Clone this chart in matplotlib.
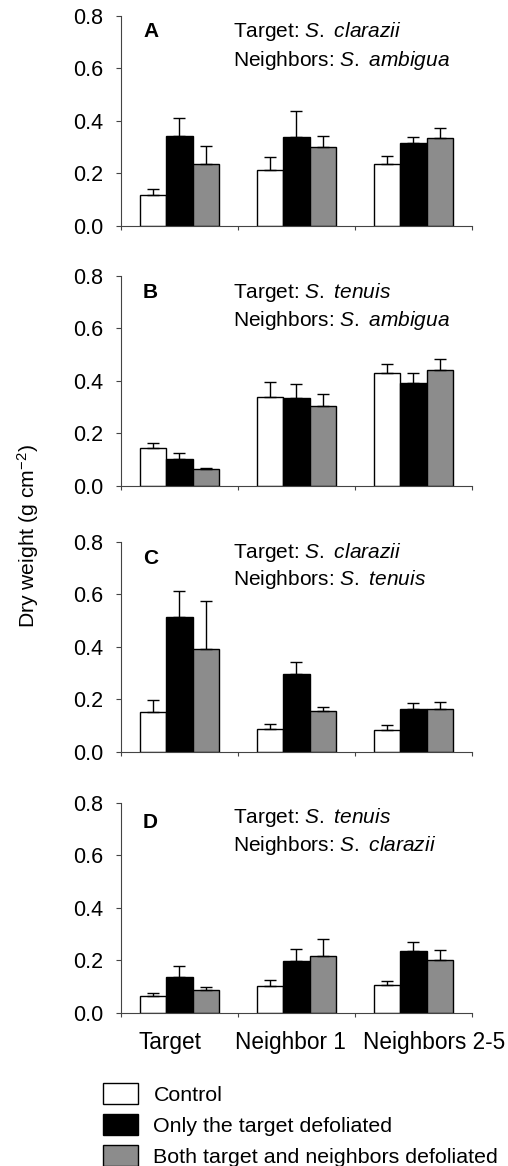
import numpy as np
import matplotlib
matplotlib.use("Agg")
import matplotlib.pyplot as plt
from matplotlib.patches import Patch

plt.rcParams["font.family"] = ["Liberation Sans", "DejaVu Sans"]
plt.rcParams["mathtext.fontset"] = "custom"
plt.rcParams["mathtext.rm"] = "Liberation Sans"
plt.rcParams["mathtext.it"] = "Liberation Sans:italic"

# categories and treatments
positions = ["Target", "Neighbor 1", "Neighbors 2-5"]
treatments = ["Control", "Only the target defoliated",
              "Both target and neighbors defoliated"]
panel_letters = ["A", "B", "C", "D"]
target_sp = ["S. clarazii", "S. tenuis", "S. clarazii", "S. tenuis"]
neighbor_sp = ["S. ambigua", "S. ambigua", "S. tenuis", "S. clarazii"]

# dry weight means, rows = position, cols = treatment (control, target, both)
mean_A = [[0.118, 0.344, 0.234], [0.211, 0.340, 0.302], [0.234, 0.314, 0.335]]
mean_B = [[0.145, 0.103, 0.066], [0.339, 0.334, 0.303], [0.429, 0.394, 0.440]]
mean_C = [[0.151, 0.513, 0.393], [0.087, 0.297, 0.157], [0.083, 0.162, 0.162]]
mean_D = [[0.065, 0.137, 0.089], [0.104, 0.197, 0.218], [0.105, 0.235, 0.203]]

# standard errors (upper whisker only)
se_A = [[0.022, 0.069, 0.072], [0.053, 0.096, 0.042], [0.031, 0.026, 0.038]]
se_B = [[0.020, 0.023, 0.004], [0.057, 0.056, 0.047], [0.036, 0.035, 0.043]]
se_C = [[0.047, 0.101, 0.182], [0.021, 0.046, 0.014], [0.020, 0.023, 0.027]]
se_D = [[0.012, 0.042, 0.010], [0.022, 0.047, 0.064], [0.016, 0.035, 0.036]]

means = [mean_A, mean_B, mean_C, mean_D]
errs = [se_A, se_B, se_C, se_D]

colors = ["white", "black", "#8c8c8c"]

fig = plt.figure(figsize=(5.08, 11.66), dpi=100)

# axes rectangles in figure fractions
tops = [0.9863, 0.7633, 0.5352, 0.3113]
text_y = [(0.924, 0.79), (0.919, 0.79), (0.948, 0.819), (0.933, 0.80)]
letter_y = [0.924, 0.919, 0.919, 0.905]
left, width, height = 0.238, 0.691, 0.180

x = np.arange(len(positions))
bw = 0.226
fs = 15
# category labels are nudged sideways so the long ones don't collide
label_shift = [-0.08, -0.05, 0.18]

axes = []
for i in range(4):
    ax = fig.add_axes([left, tops[i] - height, width, height])
    axes.append(ax)
    m = np.array(means[i])
    e = np.array(errs[i])
    for j in range(3):
        xs = x + (j - 1) * bw
        ax.bar(xs, m[:, j], width=bw, color=colors[j], edgecolor="black",
               linewidth=1.0, zorder=2)
        ax.errorbar(xs, m[:, j], yerr=[np.zeros(3), e[:, j]], fmt="none",
                    ecolor="black", elinewidth=1.0, capsize=4, capthick=1.0,
                    zorder=3)
    ax.set_xlim(-0.5, 2.5)
    ax.set_ylim(0, 0.8)
    ax.set_yticks([0.0, 0.2, 0.4, 0.6, 0.8])
    ax.set_yticklabels(["0.0", "0.2", "0.4", "0.6", "0.8"], fontsize=15.5)
    ax.set_xticks([-0.5, 0.5, 1.5, 2.5])
    ax.set_xticklabels([])
    ax.tick_params(axis="y", length=3.6, width=0.8, color="#444444", pad=9)
    ax.tick_params(axis="x", length=3, width=0.8, color="#444444")
    for s in ["top", "right"]:
        ax.spines[s].set_visible(False)
    for s in ["left", "bottom"]:
        ax.spines[s].set_linewidth(0.8)
        ax.spines[s].set_color("#444444")

    ax.text(0.063, letter_y[i], panel_letters[i], transform=ax.transAxes,
            fontsize=fs, fontweight="bold", va="center", ha="left")
    t_sp = target_sp[i].replace(" ", r"\ ")
    n_sp = neighbor_sp[i].replace(" ", r"\ ")
    ax.text(0.319, text_y[i][0], r"Target: $\mathit{" + t_sp + "}$",
            transform=ax.transAxes, fontsize=fs, va="center", ha="left")
    ax.text(0.319, text_y[i][1], r"Neighbors: $\mathit{" + n_sp + "}$",
            transform=ax.transAxes, fontsize=fs, va="center", ha="left")

# category labels on the bottom panel
for k, lab in enumerate(positions):
    axes[3].text(x[k] + label_shift[k], -0.143, lab,
                 transform=axes[3].get_xaxis_transform(),
                 fontsize=16.3, ha="center", va="center")

fig.text(0.055, 0.540, r"Dry weight (g cm$^{-2}$)", rotation=90,
         fontsize=15.2, ha="center", va="center")

handles = [Patch(facecolor=c, edgecolor="black", linewidth=1.0) for c in colors]
fig.legend(handles, treatments, loc="lower left",
           bbox_to_anchor=(0.203, -0.001), frameon=False, fontsize=15.4,
           handlelength=1.63, handleheight=1.12, labelspacing=0.45,
           handletextpad=0.72, borderaxespad=0, borderpad=0)

fig.savefig("out.png", dpi=100)
